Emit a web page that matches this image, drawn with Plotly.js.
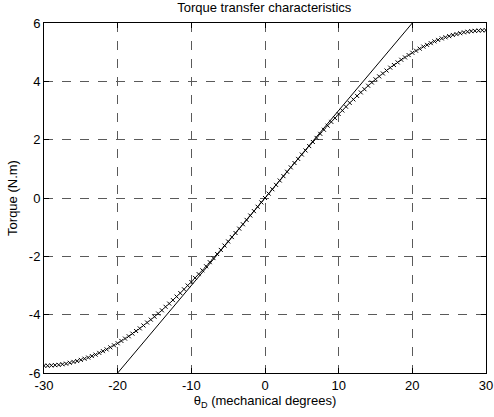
<!DOCTYPE html>
<html>
<head>
<meta charset="utf-8">
<script src="https://cdn.plot.ly/plotly-3.0.1.min.js"></script>
<style>html,body{margin:0;padding:0;background:#fff;}#chart{width:494px;height:417px;}</style>
</head>
<body>
<div id="chart"></div>
<script>
// Measured torque transfer curve (markers), theta in mechanical degrees
const thetaDeg = [
 -30,-29.5,-29,-28.5,-28,-27.5,-27,-26.5,-26,-25.5,-25,-24.5,-24,-23.5,-23,-22.5,-22,-21.5,-21,-20.5,
 -20,-19.5,-19,-18.5,-18,-17.5,-17,-16.5,-16,-15.5,-15,-14.5,-14,-13.5,-13,-12.5,-12,-11.5,-11,-10.5,
 -10,-9.5,-9,-8.5,-8,-7.5,-7,-6.5,-6,-5.5,-5,-4.5,-4,-3.5,-3,-2.5,-2,-1.5,-1,-0.5,
 0,0.5,1,1.5,2,2.5,3,3.5,4,4.5,5,5.5,6,6.5,7,7.5,8,8.5,9,9.5,
 10,10.5,11,11.5,12,12.5,13,13.5,14,14.5,15,15.5,16,16.5,17,17.5,18,18.5,19,19.5,
 20,20.5,21,21.5,22,22.5,23,23.5,24,24.5,25,25.5,26,26.5,27,27.5,28,28.5,29,29.5,30
];
const torque = [
 -5.75,-5.75,-5.74,-5.73,-5.72,-5.70,-5.68,-5.65,-5.62,-5.59,-5.55,-5.51,-5.47,-5.42,-5.37,-5.31,-5.25,-5.19,-5.12,-5.05,
 -4.98,-4.90,-4.82,-4.74,-4.65,-4.56,-4.47,-4.37,-4.27,-4.17,-4.07,-3.96,-3.85,-3.73,-3.62,-3.50,-3.38,-3.26,-3.13,-3.00,
 -2.88,-2.74,-2.61,-2.48,-2.34,-2.20,-2.06,-1.92,-1.78,-1.63,-1.49,-1.34,-1.20,-1.05,-0.90,-0.75,-0.60,-0.45,-0.30,-0.15,
 0,0.15,0.30,0.45,0.60,0.75,0.90,1.05,1.20,1.34,1.49,1.63,1.78,1.92,2.06,2.20,2.34,2.48,2.61,2.74,
 2.88,3.00,3.13,3.26,3.38,3.50,3.62,3.73,3.85,3.96,4.07,4.17,4.27,4.37,4.47,4.56,4.65,4.74,4.82,4.90,
 4.98,5.05,5.12,5.19,5.25,5.31,5.37,5.42,5.47,5.51,5.55,5.59,5.62,5.65,5.68,5.70,5.72,5.73,5.74,5.75,5.75
];
// Linear (ideal) characteristic
const lineTheta = [-20, 20];
const lineTorque = [-6, 6];

const xTicks = [-30,-20,-10,0,10,20,30];
const yTicks = [-6,-4,-2,0,2,4,6];

const font = {family: 'Liberation Sans, Arial, sans-serif', size: 13, color: '#000'};

const traces = [
  {x: lineTheta, y: lineTorque, type: 'scatter', mode: 'lines',
   line: {color: '#000', width: 1}, hoverinfo: 'skip'},
  {x: thetaDeg, y: torque, type: 'scatter', mode: 'markers',
   marker: {symbol: 'x-thin', size: 4, color: '#000', line: {color: '#000', width: 1}}}
];

const axisCommon = {
  showline: true, linecolor: '#000', linewidth: 1, mirror: 'ticks',
  ticks: 'inside', ticklen: 5, tickcolor: '#000',
  showgrid: true, gridcolor: 'rgb(90,90,90)', griddash: 'dash', gridwidth: 1,
  zeroline: false, tickfont: font
};

const layout = {
  width: 494, height: 417,
  margin: {l: 44, r: 8, t: 23, b: 44},
  paper_bgcolor: '#fff', plot_bgcolor: '#fff',
  showlegend: false, font: font,
  title: {text: 'Torque transfer characteristics', font: font, x: 0.535, xanchor: 'center', y: 0.992, yanchor: 'top'},
  xaxis: Object.assign({}, axisCommon, {range: [-30, 30], tickvals: xTicks, ticktext: xTicks.map(String),
    title: {text: 'θ<sub>D</sub> (mechanical degrees)', font: font, standoff: 4}}),
  yaxis: Object.assign({}, axisCommon, {range: [-6, 6], tickvals: yTicks, ticktext: yTicks.map(String),
    title: {text: 'Torque (N.m)', font: font, standoff: 8}})
};

Plotly.newPlot('chart', traces, layout, {displayModeBar: false, staticPlot: true});
</script>
</body>
</html>
